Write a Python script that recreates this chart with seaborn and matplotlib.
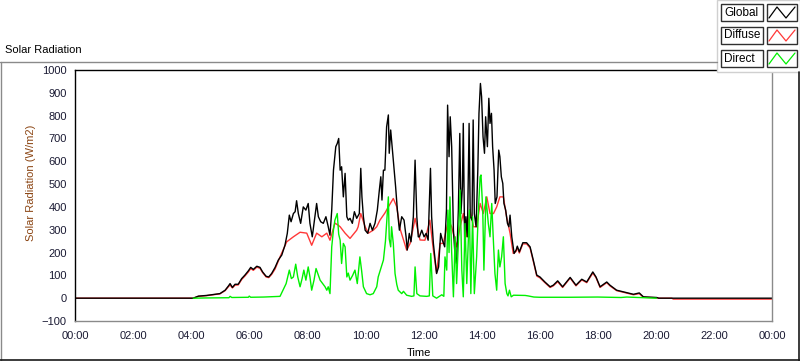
import matplotlib
matplotlib.use("Agg")
import matplotlib.pyplot as plt
import seaborn as sns
import pandas as pd
from matplotlib.patches import Rectangle
from matplotlib.lines import Line2D
from matplotlib.ticker import MultipleLocator, FixedLocator

# ---------------- data (hours of day, W/m2) ----------------
global_t = [0, 4.0, 4.07, 4.25, 4.53, 4.76, 4.99, 5.17, 5.28, 5.34, 5.42, 5.51, 5.62, 5.74, 5.85, 5.97,
            6.05, 6.14, 6.26, 6.37, 6.46, 6.58, 6.67, 6.77, 6.89, 7.0, 7.12, 7.23, 7.31, 7.38, 7.44, 7.52,
            7.58, 7.63, 7.69, 7.77, 7.86, 7.95, 8.03, 8.09, 8.17, 8.26, 8.32, 8.38, 8.46, 8.55, 8.64, 8.72,
            8.78, 8.84, 8.9, 8.98, 9.03, 9.08, 9.13, 9.18, 9.24, 9.3, 9.36, 9.41, 9.47, 9.55, 9.62, 9.7,
            9.79, 9.84, 9.88, 9.93, 9.99, 10.08, 10.16, 10.24, 10.33, 10.41, 10.48, 10.53, 10.57, 10.62,
            10.67, 10.73, 10.79, 10.82, 10.87, 10.92, 10.97, 11.04, 11.1, 11.17, 11.25, 11.33, 11.4, 11.44,
            11.51, 11.57, 11.65, 11.71, 11.77, 11.82, 11.86, 11.94, 12.02, 12.09, 12.16, 12.2, 12.24, 12.28,
            12.34, 12.4, 12.45, 12.52, 12.59, 12.65, 12.73, 12.79, 12.83, 12.88, 12.92, 12.97, 13.03, 13.09,
            13.14, 13.2, 13.25, 13.29, 13.34, 13.37, 13.42, 13.46, 13.51, 13.57, 13.61, 13.67, 13.71, 13.75,
            13.81, 13.87, 13.91, 13.96, 14.0, 14.05, 14.1, 14.14, 14.2, 14.25, 14.29, 14.34, 14.38, 14.43,
            14.47, 14.53, 14.59, 14.63, 14.68, 14.73, 14.77, 14.83, 14.89, 14.94, 14.98, 15.04, 15.12, 15.19,
            15.23, 15.3, 15.42, 15.55, 15.67, 15.78, 15.9, 16.01, 16.18, 16.36, 16.47, 16.62, 16.79, 17.05,
            17.25, 17.45, 17.62, 17.83, 17.94, 18.08, 18.31, 18.42, 18.65, 18.88, 19.23, 19.43, 19.57, 20.03,
            20.1, 24.0]
global_v = [0, 0, 0, 9, 12, 16, 20, 35, 53, 64, 47, 61, 61, 86, 101, 120,
            135, 126, 140, 135, 115, 96, 93, 108, 135, 167, 189, 232, 284, 364, 335, 371,
            379, 427, 371, 328, 400, 386, 415, 328, 269, 357, 415, 357, 335, 328, 357, 313,
            276, 386, 561, 664, 678, 700, 561, 576, 444, 547, 357, 342, 350, 328, 379, 350,
            371, 569, 444, 357, 298, 284, 328, 298, 328, 386, 474, 532, 430, 561,
            561, 751, 803, 635, 737, 664, 591, 488, 386, 298, 357, 342, 269, 211,
            284, 247, 357, 605, 357, 269, 269, 298, 269, 284, 254, 415, 569, 357,
            240, 167, 108, 137, 284, 254, 225, 386, 846, 620, 795, 664, 298, 181,
            152, 386, 722, 371, 488, 766, 211, 357, 269, 766, 357, 342, 781, 371,
            313, 561, 810, 941, 883, 707, 635, 795, 664, 876, 766, 810, 664, 561,
            415, 444, 649, 620, 532, 503, 415, 386, 328, 313, 364, 269, 196, 211,
            228, 203, 243, 243, 225, 167, 101, 93, 71, 50, 57, 76, 50, 91,
            57, 83, 71, 115, 93, 50, 71, 57, 35, 28, 17, 23, 6, 3,
            0, 0]

diffuse_t = [0, 4.0, 4.07, 4.25, 4.53, 4.76, 4.99, 5.17, 5.28, 5.34, 5.42, 5.51, 5.62, 5.74, 5.85, 5.97,
             6.05, 6.14, 6.26, 6.37, 6.46, 6.58, 6.67, 6.77, 6.89, 7.06, 7.29, 7.52, 7.75, 7.98, 8.15,
             8.32, 8.5, 8.67, 8.78, 8.95, 9.06, 9.13, 9.3, 9.47, 9.7, 9.75, 9.84, 9.99, 10.1, 10.27,
             10.39, 10.5, 10.67, 10.79, 10.96, 11.08, 11.19, 11.42, 11.54, 11.71, 11.88, 12.05, 12.22,
             12.34, 12.45, 12.57, 12.68, 12.86, 12.97, 13.14, 13.26, 13.37, 13.49, 13.6, 13.72, 13.83,
             13.95, 14.06, 14.18, 14.29, 14.41, 14.52, 14.63, 14.75, 14.86, 14.98, 15.09, 15.19, 15.23,
             15.3, 15.42, 15.55, 15.67, 15.78, 15.9, 16.01, 16.18, 16.36, 16.47, 16.62, 16.79, 17.05,
             17.25, 17.45, 17.62, 17.83, 17.94, 18.08, 18.31, 18.42, 18.65, 18.88, 19.23, 19.43, 19.57,
             20.03, 20.1, 20.55, 20.6, 24.0]
diffuse_v = [0, 0, 0, 8, 11, 15, 19, 33, 50, 58, 45, 57, 58, 82, 97, 115,
             130, 122, 136, 131, 112, 93, 90, 104, 128, 181, 247, 269, 289, 285, 232,
             285, 269, 285, 254, 329, 320, 313, 285, 262, 298, 313, 371, 313, 285, 298,
             313, 342, 373, 400, 437, 400, 305, 211, 240, 350, 255, 254, 342,
             210, 110, 240, 240, 342, 313, 225, 313, 371, 269, 386, 313, 313,
             415, 371, 444, 371, 371, 400, 444, 444, 357, 285, 196, 205, 222,
             198, 238, 238, 220, 162, 97, 89, 68, 47, 54, 72, 47, 88,
             54, 80, 68, 110, 90, 47, 68, 54, 33, 26, 15, 20, 4,
             2, 0, 0, -4, -4]

direct_t = [4.07, 4.5, 5.3, 5.34, 5.4, 5.97, 6.0, 6.05, 6.5, 7.06, 7.16, 7.27, 7.38, 7.45, 7.52, 7.6,
            7.67, 7.75, 7.82, 7.88, 7.95, 8.03, 8.09, 8.15, 8.23, 8.3, 8.38, 8.44, 8.53, 8.61, 8.67, 8.72,
            8.78, 8.84, 8.9, 8.95, 9.03, 9.08, 9.13, 9.18, 9.24, 9.3, 9.36, 9.41, 9.47, 9.56, 9.64, 9.72,
            9.81, 9.87, 9.93, 10.04, 10.16, 10.27, 10.39, 10.44, 10.53, 10.62, 10.69, 10.73, 10.79, 10.82,
            10.87, 10.9, 10.96, 11.02, 11.08, 11.13, 11.25, 11.31, 11.42, 11.59, 11.67, 11.71, 11.77, 11.88,
            12.11, 12.2, 12.25, 12.32, 12.45, 12.63, 12.7, 12.74, 12.8, 12.84, 12.88, 12.91, 12.97, 13.03,
            13.09, 13.14, 13.2, 13.26, 13.32, 13.37, 13.43, 13.49, 13.58, 13.63, 13.69, 13.75, 13.83, 13.89,
            13.95, 13.98, 14.04, 14.08, 14.15, 14.23, 14.29, 14.35, 14.4, 14.46, 14.52, 14.58, 14.63, 14.69,
            14.75, 14.81, 14.87, 14.91, 14.96, 15.02, 15.1, 15.5, 15.6, 15.8, 16.0, 17.0, 18.0, 18.8,
            19.0, 19.56, 20.02]
direct_v = [0, 1, 2, 8, 3, 4, 9, 4, 5, 8, 35, 64, 123, 86, 93, 149,
            93, 50, 86, 123, 79, 137, 93, 35, 79, 130, 100, 79, 64, 50, 35, 50,
            20, 225, 300, 342, 371, 280, 254, 152, 240, 225, 93, 110, 79, 100, 123, 64,
            181, 120, 50, 20, 15, 20, 50, 93, 130, 167, 250, 330, 444, 260,
            225, 313, 240, 108, 60, 35, 20, 30, 13, 8, 10, 137, 20, 10,
            8, 10, 196, 10, 0, 15, 8, 181, 123, 386, 200, 444, 200, 6,
            269, 64, 240, 474, 123, 6, 327, 64, 386, 20, 357, 20, 181, 386,
            532, 540, 386, 123, 444, 329, 269, 415, 269, 108, 35, 211, 137, 181,
            269, 64, 20, 10, 35, 6, 13, 12, 10, 5, 4, 4, 5, 3,
            5, 2, 0]

series_names = ["Global", "Diffuse", "Direct"]
series_colors = ["#000000", "#FF3838", "#00F000"]
x_tick_labels = ["00:00", "02:00", "04:00", "06:00", "08:00", "10:00", "12:00",
                 "14:00", "16:00", "18:00", "20:00", "22:00", "00:00"]

df = pd.concat([
    pd.DataFrame({"time": global_t, "value": global_v, "series": "Global"}),
    pd.DataFrame({"time": diffuse_t, "value": diffuse_v, "series": "Diffuse"}),
    pd.DataFrame({"time": direct_t, "value": direct_v, "series": "Direct"}),
], ignore_index=True)

# ---------------- figure ----------------
sns.set_style("white")
plt.rcParams["font.family"] = ["Liberation Sans", "DejaVu Sans"]
W, H = 800, 361
fig = plt.figure(figsize=(W / 100, H / 100), dpi=100)
fig.patch.set_facecolor("white")

def fx(px):
    return px / W

def fy(py):
    return 1 - py / H

L, R, T, B = 75, 772, 70, 321
ax = fig.add_axes([fx(L), fy(B), fx(R) - fx(L), fy(T) - fy(B)])

# draw order: diffuse under global, direct on top
sns.lineplot(data=df, x="time", y="value", hue="series", hue_order=["Diffuse", "Global", "Direct"],
             palette=dict(zip(series_names, series_colors)), estimator=None,
             legend=False, linewidth=1.0, ax=ax)

ax.set_xlim(0, 24)
ax.set_ylim(-100, 1000)
ax.set_facecolor("white")

tick_col = "#1a1a33"
ax.xaxis.set_major_locator(FixedLocator(list(range(0, 25, 2))))
ax.set_xticklabels(x_tick_labels)
ax.xaxis.set_minor_locator(MultipleLocator(0.2))
ax.yaxis.set_major_locator(MultipleLocator(100))
ax.tick_params(axis="x", which="major", direction="out", length=4, width=1, color="#333333",
               labelsize=8, labelcolor=tick_col, pad=3)
ax.tick_params(axis="x", which="minor", direction="out", length=2, width=1, color="#333333")
ax.tick_params(axis="y", which="major", direction="out", length=4, width=1, color="#333333",
               labelsize=8, labelcolor=tick_col, pad=2)
ax.tick_params(axis="y", which="minor", length=0)
for lab in ax.get_xticklabels() + ax.get_yticklabels():
    lab.set_fontfamily(["Liberation Sans", "DejaVu Sans"])

ax.set_xlabel("")
ax.set_ylabel("")
for side, col in [("left", "#000000"), ("top", "#000000"), ("right", "#8a8a8a"), ("bottom", "#8a8a8a")]:
    ax.spines[side].set_visible(True)
    ax.spines[side].set_color(col)
    ax.spines[side].set_linewidth(1.0)

fig.text(fx(419), fy(353), "Time", ha="center", va="center", fontsize=8, color="#000000")
fig.text(fx(31), fy(183), "Solar Radiation (W/m2)", ha="center", va="center", rotation=90,
         fontsize=8, color="#8B4513")
fig.text(fx(5), fy(50), "Solar Radiation", ha="left", va="center", fontsize=8, color="#000000")

# frame lines
fig.add_artist(Line2D([fx(0), fx(717)], [fy(61.5), fy(61.5)], color="#8a8a8a", lw=1.0,
                      transform=fig.transFigure))
fig.add_artist(Line2D([fx(0.5), fx(0.5)], [fy(61.5), fy(361)], color="#8a8a8a", lw=1.0,
                      transform=fig.transFigure))
fig.add_artist(Line2D([fx(0), fx(800)], [fy(360), fy(360)], color="#1a1a1a", lw=1.2,
                      transform=fig.transFigure))
fig.add_artist(Line2D([fx(799.3), fx(799.3)], [fy(72), fy(361)], color="#1a1a1a", lw=1.2,
                      transform=fig.transFigure))

# legend panel
fig.add_artist(Rectangle((fx(717), fy(72)), fx(800) - fx(717), fy(0) - fy(72),
                         transform=fig.transFigure, facecolor="white", edgecolor="#d0d0d0", lw=1.0))
for i, (name, col) in enumerate(zip(series_names, series_colors)):
    top = 4 + i * 23
    bot = top + 17
    fig.add_artist(Rectangle((fx(721), fy(bot)), fx(763) - fx(721), fy(top) - fy(bot),
                             transform=fig.transFigure, facecolor="white", edgecolor="#303030", lw=1.0))
    fig.text(fx(724), fy((top + bot) / 2), name, ha="left", va="center", fontsize=8.5, color="#000000")
    fig.add_artist(Rectangle((fx(767), fy(bot)), fx(797) - fx(767), fy(top) - fy(bot),
                             transform=fig.transFigure, facecolor="white", edgecolor="#303030", lw=1.0))
    zx = [769, 777, 786, 795]
    zy = [bot - 3, top + 3, bot - 3, top + 3]
    fig.add_artist(Line2D([fx(v) for v in zx], [fy(v) for v in zy], color=col, lw=0.9,
                          transform=fig.transFigure))

fig.savefig("out.png", dpi=100, facecolor="white")
